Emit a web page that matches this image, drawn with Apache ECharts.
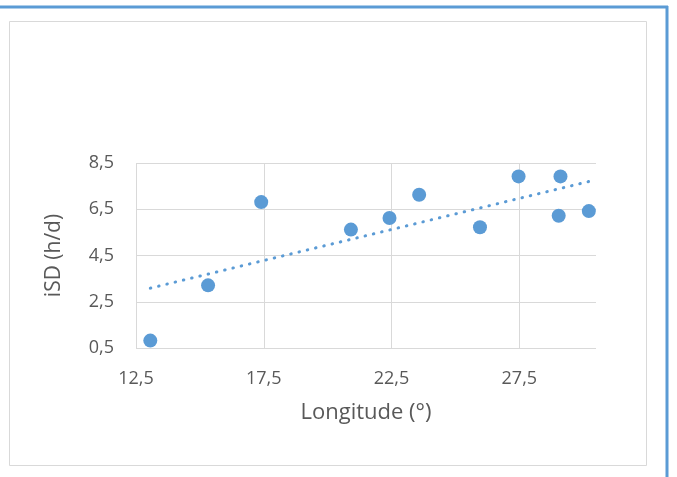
<!DOCTYPE html>
<html>
<head>
<meta charset="utf-8">
<script src="https://cdn.jsdelivr.net/npm/echarts@6/dist/echarts.min.js"></script>
<style>
html, body { margin: 0; padding: 0; background: #fff; }
#chart { width: 677px; height: 477px; }
</style>
</head>
<body>
<div id="chart"></div>
<script>
// values
var longitudes = [13.06, 15.32, 17.40, 20.91, 22.42, 23.58, 25.96, 27.47, 29.11, 29.04, 30.22];
var isdValues  = [0.82, 3.21, 6.81, 5.62, 6.12, 7.13, 5.72, 7.92, 7.92, 6.22, 6.42];
// dotted trend line, end points as drawn
var trendX = [13.06, 30.22];
var trendY = [3.09, 7.70];

var blue = '#5b9bd5';
var textColor = '#595959';
var gridColor = '#d9d9d9';
var font = 'Open Sans';

function comma(v) {
    return String(v).replace('.', ',');
}

var points = [];
for (var i = 0; i < longitudes.length; i++) {
    points.push([longitudes[i], isdValues[i]]);
}
var trend = [];
for (var i = 0; i < trendX.length; i++) {
    trend.push([trendX[i], trendY[i]]);
}

var myChart = echarts.init(document.getElementById('chart'));
var option = {
    backgroundColor: '#fff',
    animation: false,
    graphic: [
        { type: 'rect', shape: { x: 9.5, y: 21.5, width: 637, height: 444 },
          style: { fill: 'none', stroke: gridColor, lineWidth: 1 }, z: -1 },
        { type: 'line', shape: { x1: 0, y1: 7, x2: 668, y2: 7 },
          style: { stroke: blue, lineWidth: 3 } },
        { type: 'line', shape: { x1: 667, y1: 6, x2: 667, y2: 477 },
          style: { stroke: blue, lineWidth: 3 } }
    ],
    grid: { left: 136, right: 81, top: 163, bottom: 129 },
    xAxis: {
        type: 'value',
        min: 12.5,
        max: 30.5,
        interval: 5,
        name: 'Longitude (°)',
        nameLocation: 'middle',
        nameGap: 54,
        nameTextStyle: { color: textColor, fontFamily: font, fontSize: 22 },
        axisLine: { show: false },
        axisTick: { show: false },
        axisLabel: {
            color: textColor, fontFamily: font, fontSize: 18, margin: 22,
            showMaxLabel: false,
            formatter: comma
        },
        splitLine: { show: true, showMaxLine: false, lineStyle: { color: gridColor, width: 1 } }
    },
    yAxis: {
        type: 'value',
        min: 0.5,
        max: 8.5,
        interval: 2,
        name: 'iSD (h/d)',
        nameLocation: 'middle',
        nameGap: 71,
        nameTextStyle: { color: textColor, fontFamily: font, fontSize: 21 },
        axisLine: { show: false },
        axisTick: { show: false },
        axisLabel: {
            color: textColor, fontFamily: font, fontSize: 18, margin: 22,
            formatter: comma
        },
        splitLine: { show: true, lineStyle: { color: gridColor, width: 1 } }
    },
    series: [
        {
            name: 'trend',
            type: 'line',
            data: trend,
            showSymbol: false,
            silent: true,
            lineStyle: { color: blue, width: 3, type: [0.5, 8], cap: 'round' },
            z: 3
        },
        {
            name: 'iSD',
            type: 'scatter',
            data: points,
            symbol: 'circle',
            symbolSize: 14,
            itemStyle: { color: blue, opacity: 1 },
            z: 2
        }
    ]
};
myChart.setOption(option);

window.onresize = function() {
    myChart.resize();
};
</script>
</body>
</html>
